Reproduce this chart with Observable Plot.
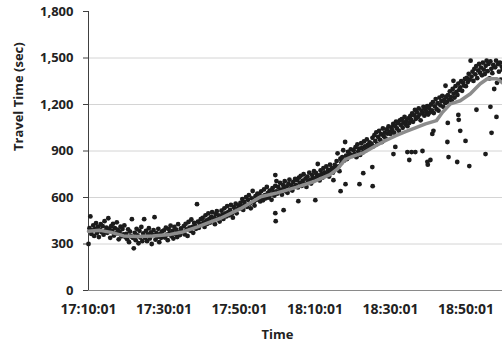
<!DOCTYPE html>
<html>
<head>
<meta charset="utf-8">
<script src="https://cdn.jsdelivr.net/npm/d3@7"></script>
<script src="https://cdn.jsdelivr.net/npm/@observablehq/plot@0.6"></script>
<style>
  html, body { margin: 0; padding: 0; background: #fff; }
  #chart { width: 502px; height: 343px; overflow: hidden; }
</style>
</head>
<body>
<div id="chart"></div>
<script>
// ---- data ----
const startTime = "17:10:01";          // first observation
const stepSeconds = 15;                // observations every 15 s
// Travel time (sec) for the main band of observations, one per step
const bandValues = [
  300, 402, 478, 365, 388, 420, 352, 398, 435, 371, 410, 345, 392, 428, 376, 415, 360, 447, 384, 405,
  372, 466, 398, 340, 415, 385, 430, 355, 402, 368, 440, 392, 330, 378, 412, 350, 396, 362, 420, 345,
  365, 330, 395, 312, 380, 350, 460, 340, 272, 372, 325, 398, 355, 305, 385, 342, 410, 318, 368, 460,
  340, 385, 318, 362, 402, 335, 375, 300, 358, 390, 473, 328, 370, 345, 398, 312, 365, 340, 382, 352,
  388, 342, 405, 360, 325, 396, 372, 418, 350, 384, 335, 410, 365, 392, 345, 428, 375, 358, 400, 380,
  378, 415, 362, 430, 395, 352, 442, 405, 385, 458, 410, 372, 436, 420, 398, 557, 445, 405, 430, 460,
  425, 468, 440, 410, 485, 452, 430, 498, 462, 438, 475, 505, 448, 470, 428, 492, 512, 460, 484, 445,
  472, 515, 490, 462, 530, 498, 478, 545, 505, 485, 520, 552, 495, 470, 538, 512, 560, 498, 528, 548,
  528, 565, 545, 590, 520, 572, 555, 602, 540, 585, 615, 560, 530, 595, 642, 570, 548, 608, 585, 625,
  590, 622, 575, 640, 605, 582, 652, 615, 595, 668, 628, 600, 645, 618, 585, 660, 635, 612, 675, 640,
  625, 668, 640, 695, 650, 618, 682, 660, 705, 640, 672, 630, 690, 715, 655, 678, 645, 700, 668, 720,
  680, 712, 665, 728, 695, 740, 675, 708, 750, 690, 722, 668, 735, 705, 760, 715, 690, 745, 725, 770,
  720, 758, 735, 816, 742, 710, 775, 750, 728, 790, 762, 740, 800, 755, 778, 735, 812, 770, 790, 760,
  775, 810, 790, 835, 885, 800, 770, 850, 825, 860, 905, 838, 958, 870, 848, 895, 865, 880, 910, 872,
  868, 905, 882, 925, 860, 942, 898, 915, 875, 950, 920, 892, 962, 930, 905, 975, 940, 918, 955, 935,
  948, 985, 930, 1002, 965, 1020, 945, 990, 1030, 972, 1008, 958, 1045, 995, 1018, 980, 1040, 1012, 1058, 1025,
  1010, 1052, 1035, 1075, 1018, 1062, 1090, 1045, 1080, 1030, 1098, 1068, 1105, 1050, 1085, 1120, 1072, 1095, 1060, 1110,
  1080, 1125, 1100, 1142, 1088, 1130, 1165, 1108, 1150, 1118, 1175, 1135, 1098, 1160, 1145, 1185, 1128, 1170, 1152, 1190,
  1135, 1178, 1150, 1200, 1162, 1215, 1145, 1188, 1235, 1170, 1208, 1160, 1245, 1195, 1222, 1256, 1185, 1230, 1210, 1250,
  1215, 1260, 1232, 1285, 1248, 1225, 1300, 1270, 1245, 1318, 1282, 1262, 1335, 1295, 1310, 1350, 1288, 1340, 1322, 1365,
  1318, 1372, 1345, 1398, 1360, 1483, 1380, 1412, 1352, 1430, 1395, 1448, 1370, 1420, 1462, 1405, 1438, 1388, 1470, 1425,
  1396, 1450, 1483, 1415, 1462, 1368, 1478, 1430, 1402, 1455, 1300, 1440, 1483, 1340, 1460, 1412, 1470, 1360, 1445, 1425
];
// Scattered observations away from the band: minutes after 17:10:01, travel time (sec)
const outlierMinutes = [49.5, 49.8, 49.5, 49.6, 51.7, 55.6, 60.1, 64.9, 66.8, 68.1, 71.8,
  72.8, 75.2, 75.3, 80.8, 81.3, 84.5, 85.6, 86.6, 85.0, 88.5, 89.8, 89.9, 90.6, 91.1, 91.4,
  94.6, 95.1, 95.4, 95.2, 96.7, 97.7, 98.0, 98.1, 98.5, 99.9, 100.9, 102.8, 105.2, 106.5, 106.8, 108.1];
const outlierValues = [745, 706, 499, 447, 518, 576, 583, 712, 641, 686, 686,
  757, 796, 673, 880, 926, 893, 893, 893, 842, 900, 830, 812, 842, 1010, 1030,
  1321, 958, 861, 1081, 1353, 829, 1133, 1101, 1030, 965, 803, 1166, 880, 1185, 1017, 1120];
// Smoothed trend (grey line): minutes after 17:10:01, travel time (sec)
const trendMinutes = [0, 3, 6, 9.3, 13, 17, 21.7, 25, 28.9, 32, 35, 40.3, 45.6, 50, 55, 60, 64, 66,
  68, 70, 73, 76, 78.5, 81.3, 84, 86.6, 89.3, 92.2, 93.8, 95.9, 98.5, 101.2, 103.8, 105.7, 108.3, 109.7];
const trendValues = [382, 388, 375, 352, 348, 352, 362, 378, 410, 440, 466, 528, 605, 630, 665, 705, 748, 785,
  845, 865, 890, 932, 965, 997, 1025, 1049, 1075, 1096, 1150, 1204, 1224, 1269, 1334, 1366, 1366, 1340];
// Axis ticks
const xTickLabels = ["17:10:01", "17:30:01", "17:50:01", "18:10:01", "18:30:01", "18:50:01"];
const yTicks = [0, 300, 600, 900, 1200, 1500, 1800];
const gridValues = [300, 600, 900, 1200, 1500];
const xTitle = "Time";
const yTitle = "Travel Time (sec)";

// ---- build ----
const parseT = s => { const [h, m, sec] = s.split(":").map(Number); return Date.UTC(2000, 0, 1, h, m, sec); };
const t0 = parseT(startTime);
const toDate = min => new Date(t0 + min * 60000);

const points = bandValues.map((v, i) => ({t: new Date(t0 + i * stepSeconds * 1000), v}))
  .concat(outlierMinutes.map((m, i) => ({t: toDate(m), v: outlierValues[i]})));
const trend = trendMinutes.map((m, i) => ({t: toDate(m), v: trendValues[i]}));
const xTicks = xTickLabels.map(s => new Date(parseT(s)));

const chart = Plot.plot({
  width: 502,
  height: 343,
  marginTop: 11,
  marginBottom: 53,
  marginLeft: 88,
  marginRight: 0,
  style: {fontFamily: "'Open Sans', sans-serif", fontSize: "13px", fontWeight: 700, color: "#222", background: "#fff"},
  x: {type: "utc", domain: [toDate(0), toDate(109.7)]},
  y: {domain: [0, 1800]},
  marks: [
    Plot.ruleY(gridValues, {stroke: "#d4d4d4", strokeWidth: 1}),
    Plot.ruleY([0], {stroke: "#8a8a8a", strokeWidth: 1}),
    Plot.ruleX([toDate(0)], {y1: 0, y2: 1800, stroke: "#404040", strokeWidth: 1}),
    Plot.axisY({ticks: yTicks, tickSize: 5, tickPadding: 10, tickFormat: d3.format(","), label: null, stroke: "#404040", strokeOpacity: 1}),
    Plot.axisX({ticks: xTicks, tickSize: 0, tickPadding: 14, fontSize: 14, tickFormat: d3.utcFormat("%H:%M:%S"), label: null}),
    Plot.dot(points, {x: "t", y: "v", r: 2.4, fill: "#1c1c1c", stroke: null}),
    Plot.line(trend, {x: "t", y: "v", stroke: "#8c8c8c", strokeWidth: 3.5}),
    Plot.text([xTitle], {frameAnchor: "bottom", dx: -18, dy: 48, fontSize: 13, fontWeight: 700, fill: "#222"}),
    Plot.text([yTitle], {frameAnchor: "left", rotate: -90, dx: -70, fontSize: 13, fontWeight: 700, fill: "#222"})
  ]
});
document.getElementById("chart").appendChild(chart);
</script>
</body>
</html>
